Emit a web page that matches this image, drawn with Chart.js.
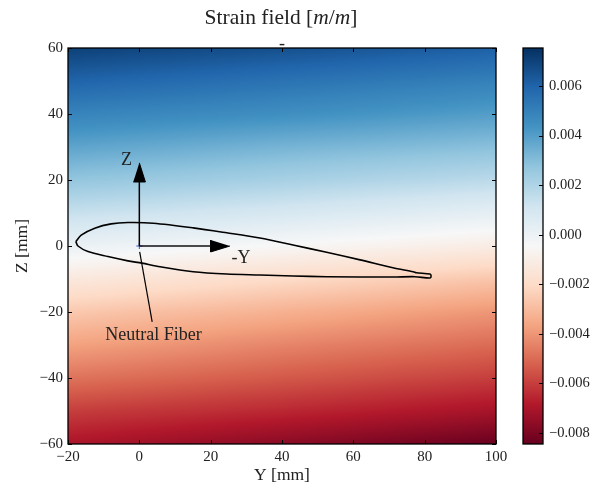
<!DOCTYPE html>
<html>
<head>
<meta charset="utf-8">
<title>Strain field</title>
<script src="https://cdn.jsdelivr.net/npm/chart.js@4"></script>
<style>
    html, body { margin: 0; padding: 0; background: #fff; overflow: hidden; }
    #wrap { position: relative; width: 601px; height: 488px; }
    #wrap canvas { position: absolute; left: 0; top: 0; }
    #title {
        position: absolute; left: 0; width: 562px; top: 5px; text-align: center;
        font: 21.5px "Liberation Serif", serif; color: #222;
    }
</style>
</head>
<body>
<div id="wrap">
    <canvas id="field" width="601" height="488"></canvas>
    <canvas id="bar" width="601" height="488"></canvas>
    <div id="title">Strain field [<i>m</i>/<i>m</i>]</div>
</div>
<script>
// strain, one list per Y column, rows follow fieldZ
const fieldY = [-20, 40, 100];
const fieldZ = [60, 50, 40, 30, 20, 10, 0, -10, -20, -30, -40, -50, -60];
const strainLeft = [0.00705, 0.0060, 0.0049, 0.0038, 0.0027, 0.0014, 0.0001, -0.0013, -0.0026, -0.0037, -0.0048, -0.0060, -0.0070];
const strainMiddle = [0.0066, 0.0055, 0.0045, 0.0033, 0.0022, 0.0009, -0.0005, -0.0020, -0.0033, -0.0044, -0.0054, -0.0065, -0.0077];
const strainRight = [0.0061, 0.0050, 0.0040, 0.0029, 0.0017, 0.0003, -0.0011, -0.0027, -0.0040, -0.0050, -0.0060, -0.0071, -0.0084];

const airfoilY = [-17.8, -16.3, -12.5, -7.9, -3.2, 3.9, 15.1, 24.5, 33.8, 43.1, 52.5, 61.9, 71.1, 76.8, 77.7, 81.5, 81.8, 81.5, 77.3, 71.1, 52.5, 43.1, 33.8, 24.5, 15.1, 5.8, 0.7, -3.2, -8.8, -14.4, -17.2, -17.8];
const airfoilZ = [1.3, 3.3, 5.4, 6.7, 7.1, 6.9, 5.5, 4.0, 2.4, 0.3, -1.9, -4.2, -6.6, -7.8, -8.1, -8.5, -9.1, -9.7, -9.3, -9.4, -9.3, -9.1, -8.8, -8.5, -7.8, -6.3, -5.2, -4.5, -3.2, -1.7, 0, 1.3];

const zArrowY = [0, 0];
const zArrowZ = [0, 19.4];
const zHeadY = [-1.7, 1.7, 0];
const zHeadZ = [19.4, 19.4, 25.2];
const yArrowY = [0, 20];
const yArrowZ = [0, 0];
const yHeadY = [20, 20, 25.4];
const yHeadZ = [1.8, -1.8, 0];
const fiberY = [0.1, 3.6];
const fiberZ = [-1.8, -23];

const noteTexts = ['Z', '-Y', 'Neutral Fiber', '-'];
const noteY = [-3.6, 28.5, 4, 40];
const noteZ = [26, -3.8, -27, 61.2];

const cbMin = -0.00844;
const cbMax = 0.00753;
const cbStops = [0, 0.1, 0.2, 0.3, 0.4, 0.5, 0.6, 0.7, 0.8, 0.9, 1];
const cbColors = ['#67001f', '#b2182b', '#d6604d', '#f4a582', '#fddbc7', '#f7f7f7', '#d1e5f0', '#92c5de', '#4393c3', '#2166ac', '#053061'];

const serif = '"Liberation Serif", serif';
const ink = '#222';

function pts(xs, ys) {
    return xs.map((x, i) => ({ x: x, y: ys[i] }));
}

function hexRgb(h) {
    return [1, 3, 5].map(i => parseInt(h.substr(i, 2), 16));
}

function colorFor(v) {
    const t = Math.max(0, Math.min(1, (v - cbMin) / (cbMax - cbMin)));
    let i = Math.min(Math.floor(t * 10), 9);
    const f = (t - cbStops[i]) / (cbStops[i + 1] - cbStops[i]);
    const a = hexRgb(cbColors[i]);
    const b = hexRgb(cbColors[i + 1]);
    return a.map((c, k) => c + (b[k] - c) * f);
}

function lookup(list, rows, z) {
    // rows run from high to low
    let i = 0;
    while (i < rows.length - 2 && z < rows[i + 1]) i++;
    const f = (rows[i] - z) / (rows[i] - rows[i + 1]);
    return list[i] + (list[i + 1] - list[i]) * f;
}

function strainAt(y, z) {
    const a = lookup(strainLeft, fieldZ, z);
    const b = lookup(strainMiddle, fieldZ, z);
    const c = lookup(strainRight, fieldZ, z);
    if (y < fieldY[1]) return a + (b - a) * (y - fieldY[0]) / (fieldY[1] - fieldY[0]);
    return b + (c - b) * (y - fieldY[1]) / (fieldY[2] - fieldY[1]);
}

const fieldPlugin = {
    id: 'fieldImage',
    beforeDatasetsDraw(chart) {
        const area = chart.chartArea;
        const w = Math.round(area.right - area.left);
        const h = Math.round(area.bottom - area.top);
        const img = chart.ctx.createImageData(w, h);
        for (let r = 0; r < h; r++) {
            const z = chart.scales.y.getValueForPixel(area.top + r + 0.5);
            for (let c = 0; c < w; c++) {
                const y = chart.scales.x.getValueForPixel(area.left + c + 0.5);
                const rgb = colorFor(strainAt(y, z));
                const p = (r * w + c) * 4;
                img.data[p] = rgb[0];
                img.data[p + 1] = rgb[1];
                img.data[p + 2] = rgb[2];
                img.data[p + 3] = 255;
            }
        }
        chart.ctx.putImageData(img, area.left, area.top);
    }
};

function drawFrame(chart, sides) {
    const ctx = chart.ctx;
    const area = chart.chartArea;
    ctx.save();
    ctx.strokeStyle = '#000';
    ctx.lineWidth = 1;
    if (sides.x) {
        chart.scales.x.ticks.forEach((t, i) => {
            const px = Math.round(chart.scales.x.getPixelForTick(i)) + 0.5;
            ctx.beginPath();
            ctx.moveTo(px, area.bottom);
            ctx.lineTo(px, area.bottom - 4);
            ctx.moveTo(px, area.top);
            ctx.lineTo(px, area.top + 4);
            ctx.stroke();
        });
    }
    chart.scales.y.ticks.forEach((t, i) => {
        const py = Math.round(chart.scales.y.getPixelForTick(i)) + 0.5;
        ctx.beginPath();
        ctx.moveTo(area.right, py);
        ctx.lineTo(area.right - 4, py);
        if (sides.x) {
            ctx.moveTo(area.left, py);
            ctx.lineTo(area.left + 4, py);
        }
        ctx.stroke();
    });
    ctx.lineWidth = 1.3;
    ctx.strokeRect(area.left, area.top, area.right - area.left, area.bottom - area.top);
    ctx.restore();
}

const framePlugin = {
    id: 'frame',
    afterDatasetsDraw(chart) {
        drawFrame(chart, { x: chart.scales.x.type === 'linear' });
    }
};

const notesPlugin = {
    id: 'notes',
    afterDatasetsDraw(chart) {
        const ctx = chart.ctx;
        ctx.save();
        ctx.font = '18px ' + serif;
        ctx.fillStyle = ink;
        ctx.textAlign = 'center';
        ctx.textBaseline = 'middle';
        noteTexts.forEach((t, i) => {
            ctx.fillText(t, chart.scales.x.getPixelForValue(noteY[i]), chart.scales.y.getPixelForValue(noteZ[i]));
        });
        ctx.restore();
    }
};

function minusLabel(text) {
    return String(text).replace('-', '\u2212');
}

new Chart(document.getElementById('field'), {
    type: 'scatter',
    data: {
        datasets: [
            { data: pts(airfoilY, airfoilZ), showLine: true, tension: 0.3, borderColor: '#000', borderWidth: 1.6, pointRadius: 0 },
            { data: pts(zArrowY, zArrowZ), showLine: true, borderColor: '#000', borderWidth: 1.5, pointRadius: 0 },
            { data: pts(zHeadY, zHeadZ), showLine: true, fill: 'shape', backgroundColor: '#000', borderColor: '#000', borderWidth: 1, pointRadius: 0 },
            { data: pts(yArrowY, yArrowZ), showLine: true, borderColor: '#111', borderWidth: 1.5, pointRadius: 0 },
            { data: pts(yHeadY, yHeadZ), showLine: true, fill: 'shape', backgroundColor: '#000', borderColor: '#000', borderWidth: 1, pointRadius: 0 },
            { data: pts(fiberY, fiberZ), showLine: true, borderColor: '#000', borderWidth: 1.2, pointRadius: 0 },
            { data: [{ x: 0, y: 0 }], pointStyle: 'cross', pointRadius: 3, pointBorderColor: '#3a4fd0', pointBorderWidth: 1 }
        ]
    },
    options: {
        responsive: false,
        animation: false,
        events: [],
        layout: { padding: { left: 0, right: 105, top: 48, bottom: 0 } },
        plugins: { legend: { display: false }, tooltip: { enabled: false } },
        scales: {
            x: {
                type: 'linear', min: -20, max: 100,
                afterFit(scale) { scale.height = 44; },
                grid: { display: false, drawTicks: false },
                border: { display: false },
                title: { display: true, text: 'Y [mm]', color: ink, font: { family: serif, size: 17.5 }, padding: { top: 0, bottom: 2 } },
                ticks: {
                    stepSize: 20, maxRotation: 0, color: ink, padding: 4,
                    font: { family: serif, size: 15 },
                    callback: minusLabel
                }
            },
            y: {
                type: 'linear', min: -60, max: 60,
                afterFit(scale) { scale.width = 68; },
                grid: { display: false, drawTicks: false },
                border: { display: false },
                title: { display: true, text: 'Z [mm]', color: ink, font: { family: serif, size: 17.5 }, padding: { top: 12, bottom: 0 } },
                ticks: {
                    stepSize: 20, color: ink, padding: 5,
                    font: { family: serif, size: 15 },
                    callback: minusLabel
                }
            }
        }
    },
    plugins: [fieldPlugin, framePlugin, notesPlugin]
});

function cbGradient(context) {
    const chart = context.chart;
    const area = chart.chartArea;
    if (!area) return cbColors[5];
    const g = chart.ctx.createLinearGradient(0, area.bottom, 0, area.top);
    cbStops.forEach((s, i) => g.addColorStop(s, cbColors[i]));
    return g;
}

new Chart(document.getElementById('bar'), {
    type: 'bar',
    data: {
        labels: ['strain'],
        datasets: [{ data: [[cbMin, cbMax]], backgroundColor: cbGradient, barPercentage: 1, categoryPercentage: 1 }]
    },
    options: {
        responsive: false,
        animation: false,
        events: [],
        layout: { padding: { left: 523, right: 0, top: 48, bottom: 44 } },
        plugins: { legend: { display: false }, tooltip: { enabled: false } },
        scales: {
            x: { display: false },
            y: {
                position: 'right',
                type: 'linear', min: cbMin, max: cbMax,
                afterFit(scale) { scale.width = 58; },
                grid: { display: false, drawTicks: false },
                border: { display: false },
                ticks: {
                    stepSize: 0.002, includeBounds: false, color: ink, padding: 6,
                    font: { family: serif, size: 14.5 },
                    callback: v => minusLabel(v.toFixed(3))
                }
            }
        }
    },
    plugins: [framePlugin]
});
</script>
</body>
</html>
